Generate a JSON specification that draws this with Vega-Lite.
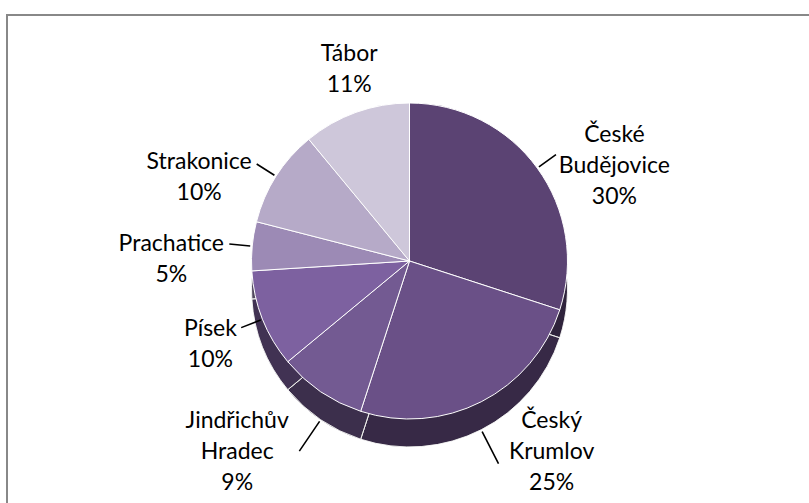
{
  "$schema": "https://vega.github.io/schema/vega-lite/v6.json",
  "width": 805,
  "height": 492,
  "padding": {"left": 7, "top": 15, "right": 0, "bottom": 0},
  "autosize": {"type": "none"},
  "background": "white",
  "view": {"stroke": "#888888", "strokeWidth": 2},
  "data": {
    "values": [
      {"city": "České Budějovice", "label": "České\nBudějovice\n30%", "share": 30, "rank": 1, "side": "right"},
      {"city": "Český Krumlov", "label": "Český\nKrumlov\n25%", "share": 25, "rank": 2, "side": "bottomright"},
      {"city": "Jindřichův Hradec", "label": "Jindřichův\nHradec\n9%", "share": 9, "rank": 3, "side": "bottomleft"},
      {"city": "Písek", "label": "Písek\n10%", "share": 10, "rank": 4, "side": "leftnarrow"},
      {"city": "Prachatice", "label": "Prachatice\n5%", "share": 5, "rank": 5, "side": "leftwide"},
      {"city": "Strakonice", "label": "Strakonice\n10%", "share": 10, "rank": 6, "side": "leftwide"},
      {"city": "Tábor", "label": "Tábor\n11%", "share": 11, "rank": 7, "side": "top"}
    ]
  },
  "transform": [
    {"window": [{"op": "sum", "field": "share", "as": "cumEnd"}], "sort": [{"field": "rank"}], "frame": [null, 0]},
    {"calculate": "datum.cumEnd - datum.share", "as": "cumStart"},
    {"calculate": "datum.cumEnd - datum.share / 2", "as": "cumMid"}
  ],
  "layer": [
    {
      "mark": {"type": "arc", "outerRadius": 158, "yOffset": 28, "stroke": "white", "strokeWidth": 0.8},
      "encoding": {
        "theta": {"field": "cumStart", "type": "quantitative", "scale": {"domain": [0, 100], "range": [0, 6.2832]}},
        "theta2": {"field": "cumEnd"},
        "color": {
          "field": "city", "type": "nominal", "legend": null,
          "scale": {
            "domain": ["České Budějovice", "Český Krumlov", "Jindřichův Hradec", "Písek", "Prachatice", "Strakonice", "Tábor"],
            "range": ["#5b4373", "#6a5087", "#735a92", "#7d61a0", "#9c8ab5", "#b6aac8", "#cec7da"]
          }
        }
      }
    },
    {
      "mark": {"type": "arc", "outerRadius": 158, "yOffset": 28, "fill": "black", "fillOpacity": 0.48, "stroke": "white", "strokeWidth": 0.8},
      "encoding": {
        "theta": {"field": "cumStart", "type": "quantitative"},
        "theta2": {"field": "cumEnd"}
      }
    },
    {
      "mark": {"type": "arc", "outerRadius": 158, "stroke": "white", "strokeWidth": 1},
      "encoding": {
        "theta": {"field": "cumStart", "type": "quantitative"},
        "theta2": {"field": "cumEnd"},
        "color": {"field": "city", "type": "nominal", "legend": null}
      }
    },
    {
      "transform": [{"filter": "datum.side == 'leftwide' || datum.side == 'leftnarrow' || datum.side == 'right'"}],
      "mark": {"type": "arc", "outerRadius": 181, "innerRadius": 160, "fill": null, "stroke": "black", "strokeWidth": 1.6},
      "encoding": {
        "theta": {"field": "cumMid", "type": "quantitative"},
        "theta2": {"field": "cumMid"}
      }
    },
    {
      "transform": [{"filter": "datum.side == 'bottomleft' || datum.side == 'bottomright'"}],
      "mark": {"type": "arc", "outerRadius": 196, "innerRadius": 160, "yOffset": 28, "fill": null, "stroke": "black", "strokeWidth": 1.6},
      "encoding": {
        "theta": {"field": "cumMid", "type": "quantitative"},
        "theta2": {"field": "cumMid"}
      }
    },
    {
      "transform": [{"filter": "datum.side == 'right'"}],
      "mark": {"type": "text", "radius": 184, "dx": 56, "dy": -6, "font": "Lato", "fontSize": 23, "color": "black", "lineBreak": "\n", "lineHeight": 31, "align": "center", "baseline": "bottom"},
      "encoding": {
        "theta": {"field": "cumMid", "type": "quantitative"},
        "text": {"field": "label", "type": "nominal"}
      }
    },
    {
      "transform": [{"filter": "datum.side == 'leftwide'"}],
      "mark": {"type": "text", "radius": 184, "dx": -55, "font": "Lato", "fontSize": 23, "color": "black", "lineBreak": "\n", "lineHeight": 31, "align": "center", "baseline": "middle"},
      "encoding": {
        "theta": {"field": "cumMid", "type": "quantitative"},
        "text": {"field": "label", "type": "nominal"}
      }
    },
    {
      "transform": [{"filter": "datum.side == 'leftnarrow'"}],
      "mark": {"type": "text", "radius": 184, "dx": -28, "font": "Lato", "fontSize": 23, "color": "black", "lineBreak": "\n", "lineHeight": 31, "align": "center", "baseline": "middle"},
      "encoding": {
        "theta": {"field": "cumMid", "type": "quantitative"},
        "text": {"field": "label", "type": "nominal"}
      }
    },
    {
      "transform": [{"filter": "datum.side == 'bottomright'"}],
      "mark": {"type": "text", "radius": 150, "yOffset": 28, "dx": 74, "dy": -13, "font": "Lato", "fontSize": 23, "color": "black", "lineBreak": "\n", "lineHeight": 31, "align": "center", "baseline": "top"},
      "encoding": {
        "theta": {"field": "cumMid", "type": "quantitative"},
        "text": {"field": "label", "type": "nominal"}
      }
    },
    {
      "transform": [{"filter": "datum.side == 'bottomleft'"}],
      "mark": {"type": "text", "radius": 150, "yOffset": 28, "dx": -88, "dy": -3, "font": "Lato", "fontSize": 23, "color": "black", "lineBreak": "\n", "lineHeight": 31, "align": "center", "baseline": "top"},
      "encoding": {
        "theta": {"field": "cumMid", "type": "quantitative"},
        "text": {"field": "label", "type": "nominal"}
      }
    },
    {
      "transform": [{"filter": "datum.side == 'top'"}],
      "mark": {"type": "text", "radius": 178, "dy": -28, "font": "Lato", "fontSize": 23, "color": "black", "lineBreak": "\n", "lineHeight": 31, "align": "center", "baseline": "bottom"},
      "encoding": {
        "theta": {"field": "cumMid", "type": "quantitative"},
        "text": {"field": "label", "type": "nominal"}
      }
    }
  ]
}
